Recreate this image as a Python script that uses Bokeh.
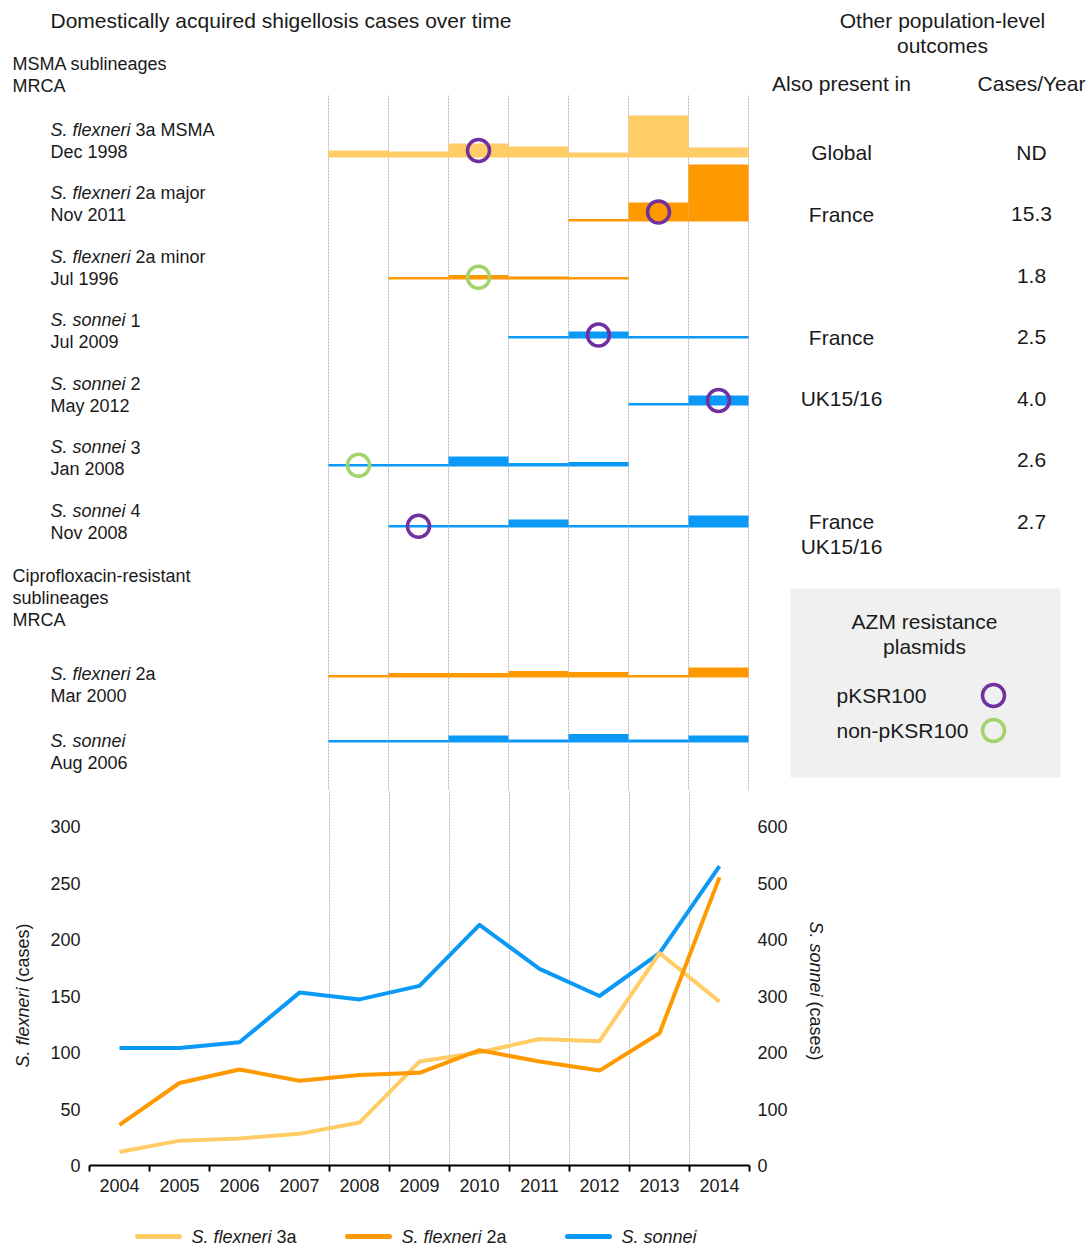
import math
from bokeh.plotting import figure
from bokeh.layouts import column, row
from bokeh.models import Range1d, LinearAxis, FixedTicker
from bokeh.core.properties import value
from bokeh.embed import file_html
from bokeh.resources import INLINE

# ---------------- data ----------------
years = list(range(2004, 2015))
flexneri_3a_cases = [12, 22, 24, 28, 38, 92, 100, 112, 110, 188, 145]
flexneri_2a_cases = [36, 73, 85, 75, 80, 82, 102, 92, 84, 117, 255]
sonnei_cases = [208, 208, 218, 306, 294, 318, 426, 348, 300, 376, 530]

msma_species = ["S. flexneri", "S. flexneri", "S. flexneri", "S. sonnei", "S. sonnei", "S. sonnei", "S. sonnei"]
msma_names = ["3a MSMA", "2a major", "2a minor", "1", "2", "3", "4"]
msma_mrca = ["Dec 1998", "Nov 2011", "Jul 1996", "Jul 2009", "May 2012", "Jan 2008", "Nov 2008"]
msma_group = ["3a", "2a", "2a", "sonnei", "sonnei", "sonnei", "sonnei"]
msma_first_year = [2008, 2012, 2009, 2011, 2013, 2008, 2009]
msma_counts = [
    [7, 6, 14, 11, 5, 42, 10],
    [0, 19, 57],
    [0, 4.5, 3, 0],
    [0, 7, 0, 0],
    [0, 10],
    [0, 0, 10, 3.5, 4.5],
    [0, 0, 8, 0, 0, 12],
]
plasmid_year = [2010, 2013, 2010, 2012, 2014, 2008, 2009]
plasmid_type = ["pKSR100", "pKSR100", "non-pKSR100", "pKSR100", "pKSR100", "non-pKSR100", "pKSR100"]
also_present = [["Global"], ["France"], [], ["France"], ["UK15/16"], [], ["France", "UK15/16"]]
cases_per_year = ["ND", "15.3", "1.8", "2.5", "4.0", "2.6", "2.7"]

cipro_species = ["S. flexneri", "S. sonnei"]
cipro_names = ["2a", ""]
cipro_mrca = ["Mar 2000", "Aug 2006"]
cipro_group = ["2a", "sonnei"]
cipro_first_year = [2008, 2008]
cipro_counts = [
    [0, 4.5, 4.5, 6.5, 5.5, 2.5, 10],
    [0, 0, 7, 3, 8.5, 3, 7],
]

# ---------------- style / layout ----------------
FONT = "Liberation Sans"
TXT = "#1a1a1a"
COLORS = {"3a": "#FFCC66", "2a": "#FF9900", "sonnei": "#0A99F7"}
PLASMID_COLORS = {"pKSR100": "#7030A0", "non-pKSR100": "#A3D46B"}
GRID = "#b8b8b8"
PX_PER_ISOLATE = 1.0
THIN = 2.5
ROW_BASE = [157, 221, 279, 338, 405, 466, 527]
CIPRO_BASE = [677, 742]
ITAL_W = {"S. flexneri": 85, "S. sonnei": 80}  # italic part width + space at 18px
CASES_W = 59  # "(cases)" width at 18px


def add_text(p, x, y, s, size="18px", align="left", italic=False, angle=0, x_offset=0, **kw):
    p.text(x=[x], y=[y], text=[s], text_font=value(FONT), text_font_size=size,
           text_align=align, text_baseline="middle", angle=angle, x_offset=x_offset,
           text_font_style="italic" if italic else "normal", text_color=TXT, **kw)


def blank_fig(w, h, xr, yr):
    p = figure(width=w, height=h, x_range=Range1d(*xr), y_range=Range1d(*yr),
               x_axis_location=None, y_axis_location=None, toolbar_location=None,
               output_backend="svg", min_border=0, title=None)
    p.outline_line_color = None
    p.grid.visible = False
    p.background_fill_color = "white"
    p.border_fill_color = "white"
    return p


# ---------------- top panel ----------------
W = 1089
top = blank_fig(W, 790, (0, W), (790, 0))
top.extra_x_ranges = {"year": Range1d(2008 + (0 - 358) / 60, 2008 + (W - 358) / 60)}

bounds = [y + 0.5 for y in range(2007, 2015)]
top.segment(x0=bounds, x1=bounds, y0=[95] * len(bounds), y1=[790] * len(bounds),
            x_range_name="year", line_color=GRID, line_width=1, line_dash="2 1")


def draw_rows(bases, groups, firsts, counts):
    for base, g, fy, cs in zip(bases, groups, firsts, counts):
        yrs = [fy + k for k in range(len(cs))]
        top.quad(left=[y - 0.5 for y in yrs], right=[y + 0.5 for y in yrs],
                 bottom=[base] * len(cs),
                 top=[base - max(c * PX_PER_ISOLATE, THIN) for c in cs],
                 x_range_name="year", fill_color=COLORS[g], line_color=None)


draw_rows(ROW_BASE, msma_group, msma_first_year, msma_counts)
draw_rows(CIPRO_BASE, cipro_group, cipro_first_year, cipro_counts)

for base, fy, cs, py, pt in zip(ROW_BASE, msma_first_year, msma_counts, plasmid_year, plasmid_type):
    h = max(cs[py - fy] * PX_PER_ISOLATE, THIN)
    top.scatter(x=[py], y=[base - h / 2], marker="circle", size=22, fill_color=None,
                line_color=PLASMID_COLORS[pt], line_width=3.5, x_range_name="year")

add_text(top, 50, 20, "Domestically acquired shigellosis cases over time", size="21px")
add_text(top, 12, 63, "MSMA sublineages")
add_text(top, 12, 85, "MRCA")
for i, (sp, nm, dt) in enumerate(zip(msma_species, msma_names, msma_mrca)):
    y1 = 129 + 63.5 * i
    add_text(top, 50, y1, sp, italic=True)
    if nm:
        add_text(top, 50, y1, nm, x_offset=ITAL_W[sp])
    add_text(top, 50, y1 + 22, dt)

add_text(top, 12, 575, "Ciprofloxacin-resistant")
add_text(top, 12, 597, "sublineages")
add_text(top, 12, 619, "MRCA")
for sp, nm, dt, y1 in zip(cipro_species, cipro_names, cipro_mrca, [673, 740]):
    add_text(top, 50, y1, sp, italic=True)
    if nm:
        add_text(top, 50, y1, nm, x_offset=ITAL_W[sp])
    add_text(top, 50, y1 + 22, dt)

add_text(top, 942, 20, "Other population-level", size="21px", align="center")
add_text(top, 942, 45, "outcomes", size="21px", align="center")
add_text(top, 841, 83, "Also present in", size="21px", align="center")
add_text(top, 1031, 83, "Cases/Year", size="21px", align="center")
for i, (places, cpy) in enumerate(zip(also_present, cases_per_year)):
    yr = 152 + 61.5 * i
    for k, pl in enumerate(places):
        add_text(top, 841, yr + 25 * k, pl, size="21px", align="center")
    add_text(top, 1031, yr, cpy, size="21px", align="center")

# plasmid legend box
top.quad(left=[790], right=[1060], top=[588], bottom=[777], fill_color="#F0F0F0", line_color=None)
add_text(top, 924, 621, "AZM resistance", size="21px", align="center")
add_text(top, 924, 646, "plasmids", size="21px", align="center")
for (name, col), yy in zip(PLASMID_COLORS.items(), [695, 730]):
    add_text(top, 836, yy, name, size="21px")
    top.scatter(x=[993], y=[yy], marker="circle", size=22, fill_color=None,
                line_color=col, line_width=3.5)

# ---------------- line chart ----------------
y_top = 300 * (1165 - 790) / 339
chart = figure(width=760, height=420, x_range=Range1d(2003.5, 2014.5), y_range=Range1d(0, y_top),
               toolbar_location=None, output_backend="svg", title=None,
               min_border_left=49, min_border_right=51, min_border_top=0, min_border_bottom=45)
chart.outline_line_color = None
chart.background_fill_color = "white"
chart.border_fill_color = "white"
chart.extra_y_ranges = {"sonnei": Range1d(0, 2 * y_top)}

chart.ygrid.visible = False
chart.xgrid.ticker = FixedTicker(ticks=bounds)
chart.xgrid.grid_line_color = GRID
chart.xgrid.grid_line_dash = "2 1"
chart.xgrid.grid_line_width = 1

xa = chart.xaxis[0]
xa.ticker = FixedTicker(ticks=years, minor_ticks=[y - 0.5 for y in years] + [2014.5])
xa.axis_line_color = "black"
xa.axis_line_width = 2
xa.major_tick_line_color = None
xa.major_tick_out = 6
xa.major_tick_in = 0
xa.minor_tick_out = 6
xa.minor_tick_in = 0
xa.minor_tick_line_color = "black"
xa.minor_tick_line_width = 2
xa.major_label_standoff = 7
xa.major_label_text_font = FONT
xa.major_label_text_font_size = "18px"
xa.major_label_text_color = TXT

ya = chart.yaxis[0]
ya.ticker = FixedTicker(ticks=list(range(0, 301, 50)))
ra = LinearAxis(y_range_name="sonnei", ticker=FixedTicker(ticks=list(range(0, 601, 100))))
chart.add_layout(ra, "right")
for ax in (ya, ra):
    ax.axis_line_color = None
    ax.major_tick_line_color = None
    ax.minor_tick_line_color = None
    ax.major_tick_out = 0
    ax.major_tick_in = 0
    ax.major_label_text_font = FONT
    ax.major_label_text_font_size = "18px"
    ax.major_label_text_color = TXT
ya.major_label_standoff = 9
ra.major_label_standoff = 8

chart.line(years, sonnei_cases, y_range_name="sonnei", line_color=COLORS["sonnei"], line_width=4, line_join="round")
chart.line(years, flexneri_3a_cases, line_color=COLORS["3a"], line_width=4, line_join="round")
chart.line(years, flexneri_2a_cases, line_color=COLORS["2a"], line_width=4, line_join="round")

# axis titles (mixed italic / upright), placed by their centres.
# In a row, Bokeh aligns these frames with the chart frame (page y 790..1165).
left_t = blank_fig(40, 420, (0, 40), (1165, 790))
l0 = 1067
add_text(left_t, 22, l0 - (ITAL_W["S. flexneri"] - 5) / 2, "S. flexneri", italic=True,
         align="center", angle=math.pi / 2)
add_text(left_t, 22, l0 - ITAL_W["S. flexneri"] - CASES_W / 2, "(cases)",
         align="center", angle=math.pi / 2)

right_t = blank_fig(W - 800, 420, (800, W), (1165, 790))
r0 = 921
add_text(right_t, 815, r0 + (ITAL_W["S. sonnei"] - 5) / 2, "S. sonnei", italic=True,
         align="center", angle=-math.pi / 2)
add_text(right_t, 815, r0 + ITAL_W["S. sonnei"] + CASES_W / 2, "(cases)",
         align="center", angle=-math.pi / 2)

# ---------------- bottom legend ----------------
leg = blank_fig(W, 36, (0, W), (1246, 1210))
leg_items = [("S. flexneri", "3a", "3a", 137), ("S. flexneri", "2a", "2a", 347), ("S. sonnei", "", "sonnei", 567)]
for sp, nm, g, x0 in leg_items:
    leg.line([x0, x0 + 42], [1236, 1236], line_color=COLORS[g], line_width=5, line_cap="round")
    add_text(leg, x0 + 54, 1236, sp, italic=True)
    if nm:
        add_text(leg, x0 + 54, 1236, nm, x_offset=ITAL_W[sp])

layout = column(top, row(left_t, chart, right_t), leg)
open("out.html", "w").write(file_html(layout, INLINE))
